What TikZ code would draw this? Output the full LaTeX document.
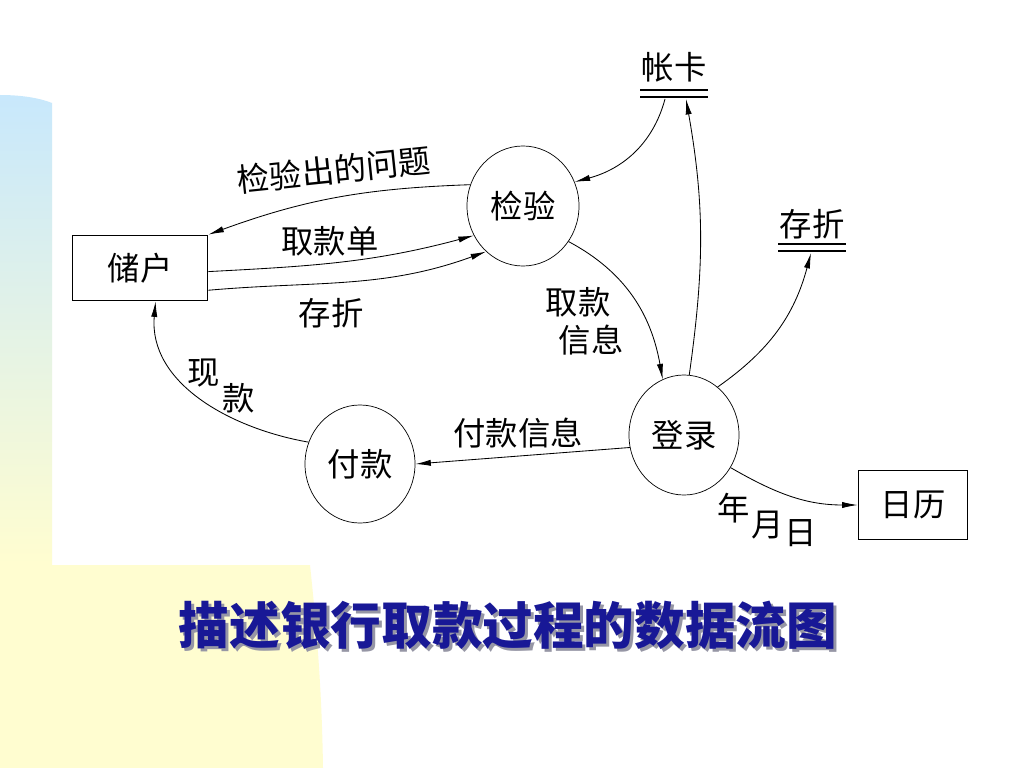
\documentclass[tikz,border=0pt]{standalone}
\usepackage{fontspec}
\setmainfont{Noto Sans CJK SC}
\usepackage{tikz}
\usetikzlibrary{arrows.meta,shapes.geometric}

\definecolor{stripblue}{RGB}{200,232,252}
\definecolor{stripyellow}{RGB}{255,253,208}
\definecolor{titleblue}{RGB}{24,24,150}
\definecolor{titlegray}{RGB}{150,150,165}

\tikzset{
  proc/.style={ellipse, draw, line width=0.5pt, minimum width=2.8cm, minimum height=3cm, inner sep=0pt},
  ext/.style={rectangle, draw, line width=1.3pt, inner sep=0pt},
  store/.style={inner sep=0pt},
  storeline/.style={line width=1.3pt},
  flow/.style={line width=0.6pt, -{Latex[length=11pt,width=4.4pt]}},
  lbl/.style={inner sep=0pt}
}

\begin{document}
\begin{tikzpicture}[x=0.025cm, y=-0.025cm, font=\fontsize{23}{26}\selectfont]

        %%% background %%%
        \useasboundingbox (0,0) rectangle (1024,768);
        \fill[white] (0,0) rectangle (1024,768);
        \shade[top color=stripblue, bottom color=stripyellow]
          (0,95) .. controls (25,95) and (42,99) .. (52,103) -- (52,565) -- (0,565) -- cycle;
        \fill[stripyellow] (0,565) -- (310,565) .. controls (318,640) and (322,700) .. (323,768) -- (0,768) -- cycle;

        %%% entities and processes %%%
        \node[ext, minimum width=3.375cm, minimum height=1.625cm] (chuhu) at (140,268) {储户};
        \node[ext, minimum width=2.725cm, minimum height=1.725cm] (rili) at (913,505) {日历};
        \node[proc] (jianyan) at (523,206) {检验};
        \node[proc, minimum width=2.75cm] (denglu) at (684,435) {登录};
        \node[proc, minimum width=2.75cm, minimum height=2.95cm] (fukuan) at (360,464) {付款};

        %%% data stores %%%
        \node[store] (zhangka) at (674,67) {帐卡};
        \draw[storeline] (640,90) -- (708,90) (640,97) -- (708,97);
        \coordinate (zhangka-out) at (665,99);
        \coordinate (zhangka-in) at (686,99);

        \node[store] (cunzhe) at (812,224) {存折};
        \draw[storeline] (778,244) -- (846,244) (778,251) -- (846,251);
        \coordinate (cunzhe-in) at (811,253);

        %%% flows %%%
        \draw[flow] (jianyan.158) to[out=182,in=20] (chuhu.north east);
        \draw[flow] (chuhu.-3) to[out=3,in=195] (jianyan.211);
        \draw[flow] (chuhu.-18) to[out=5,in=200] (jianyan.231);
        \draw[flow] (zhangka-out) to[out=-105,in=15] (jianyan.25);
        \draw[flow] (jianyan.-38) to[out=-28,in=100] (denglu.111);
        \draw[flow] (denglu.85) to[out=82,in=-80] (zhangka-in);
        \draw[flow] (denglu.55) to[out=35,in=-105] (cunzhe-in);
        \draw[flow] (denglu.193) -- (fukuan.east);
        \draw[flow] (fukuan.157) to[out=170,in=-95] (chuhu.-65);
        \draw[flow] (denglu.-35) to[out=-30,in=180] (rili.west);

        %%% flow labels %%%
        \node[lbl, rotate=6] (l-wenti) at (334,170) {检验出的问题};
        \node[lbl] (l-qukuandan) at (330,241) {取款单};
        \node[lbl] (l-cunzhe) at (331,313) {存折};
        \node[lbl] (l-qukuan) at (578,302) {取款};
        \node[lbl] (l-xinxi) at (591,340) {信息};
        \node[lbl] (l-fukuanxx) at (518,433) {付款信息};
        \node[lbl] (l-xian) at (204,373) {现};
        \node[lbl] (l-kuan) at (239,398) {款};
        \node[lbl] (l-nian) at (734,508) {年};
        \node[lbl] (l-yue) at (768,525) {月};
        \node[lbl] (l-ri) at (801,533) {日};

        %%% title %%%
        \node[text=titlegray, font=\fontsize{36}{40}\selectfont\bfseries] (title-shadow) at (511,628) {描述银行取款过程的数据流图};
        \node[text=titleblue, font=\fontsize{36}{40}\selectfont\bfseries] (title) at (508,625) {描述银行取款过程的数据流图};

      \end{tikzpicture}
\end{document}
